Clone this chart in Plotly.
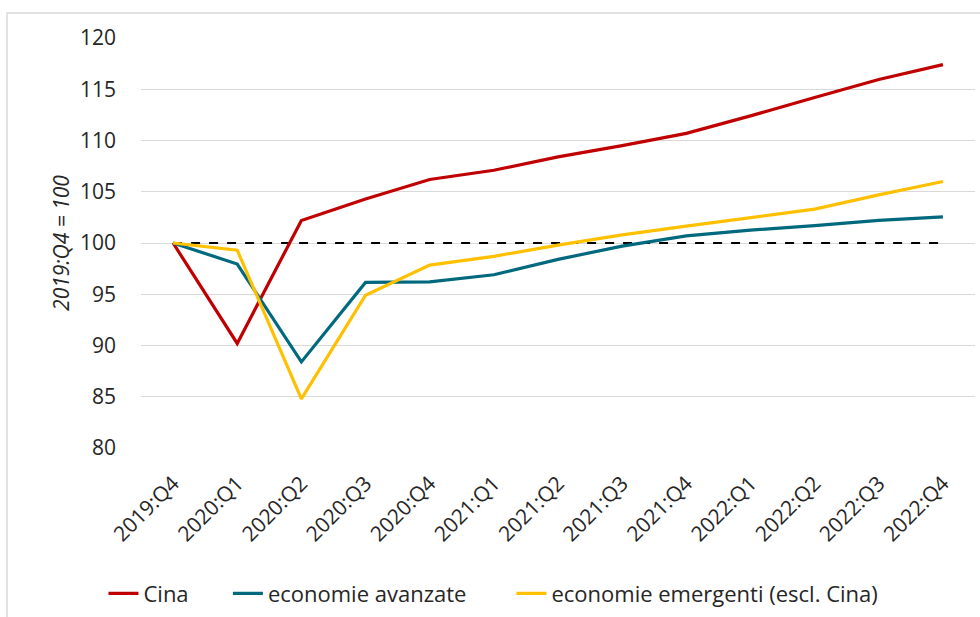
import plotly.graph_objects as go

categories = ["2019:Q4", "2020:Q1", "2020:Q2", "2020:Q3", "2020:Q4", "2021:Q1", "2021:Q2",
              "2021:Q3", "2021:Q4", "2022:Q1", "2022:Q2", "2022:Q3", "2022:Q4"]
cina = [100, 90.2, 102.2, 104.3, 106.2, 107.1, 108.4, 109.5, 110.7, 112.4, 114.2, 115.95, 117.4]
avanzate = [100, 97.95, 88.4, 96.15, 96.2, 96.9, 98.4, 99.7, 100.7, 101.25, 101.7, 102.2, 102.55]
emergenti = [100, 99.3, 84.8, 94.9, 97.85, 98.7, 99.8, 100.8, 101.65, 102.45, 103.3, 104.7, 106.0]
baseline = [100] * len(categories)
y_ticks = [80, 85, 90, 95, 100, 105, 110, 115, 120]
series_names = ["Cina", "economie avanzate", "economie emergenti (escl. Cina)"]

FONT = "Open Sans"
TXT = "#262626"
fig = go.Figure()
fig.add_trace(go.Scatter(x=categories, y=baseline, mode="lines", showlegend=False,
                         line=dict(color="black", width=2, dash="dash"), hoverinfo="skip"))
fig.add_trace(go.Scatter(x=categories, y=cina, mode="lines", name=series_names[0] + "\u00a0" * 6,
                         line=dict(color="#C00000", width=3.2)))
fig.add_trace(go.Scatter(x=categories, y=avanzate, mode="lines", name=series_names[1] + "\u00a0" * 7,
                         line=dict(color="#00697D", width=3.2)))
fig.add_trace(go.Scatter(x=categories, y=emergenti, mode="lines", name=series_names[2],
                         line=dict(color="#FFC000", width=3.2)))

fig.update_layout(
    width=980, height=617,
    margin=dict(l=141, r=5, t=38, b=169, autoexpand=False),
    paper_bgcolor="white", plot_bgcolor="white",
    font=dict(family=FONT, color=TXT),
    showlegend=True,
    legend=dict(orientation="h", x=-0.045, xanchor="left", y=-0.355, yanchor="middle",
                font=dict(size=22, family=FONT, color=TXT), itemwidth=30),
    xaxis=dict(type="category", tickangle=-45, tickfont=dict(size=21, family=FONT, color=TXT),
               showgrid=False, showline=False, ticks="", range=[-0.5, len(categories) - 0.5],
               ticklabelstandoff=18, automargin=False),
    yaxis=dict(range=[80, 120], tickvals=y_ticks, showgrid=True, gridcolor="#D9D9D9", gridwidth=1,
               zeroline=False, showline=False, ticks="", automargin=False,
               tickfont=dict(size=21, family=FONT, color=TXT), ticklabelstandoff=24,
               title=dict(text="<i>2019:Q4 = 100</i>", font=dict(size=21, family=FONT, color=TXT),
                          standoff=4)),
    shapes=[dict(type="rect", xref="paper", yref="paper", x0=(7 - 141) / 834, x1=1.05,
                 y0=-0.5, y1=1 + 25 / 410, line=dict(color="#D9D9D9", width=1.5), layer="below")],
)
fig.write_html("out.html", config={"displayModeBar": False},
               post_script="document.body.style.margin='0';")
